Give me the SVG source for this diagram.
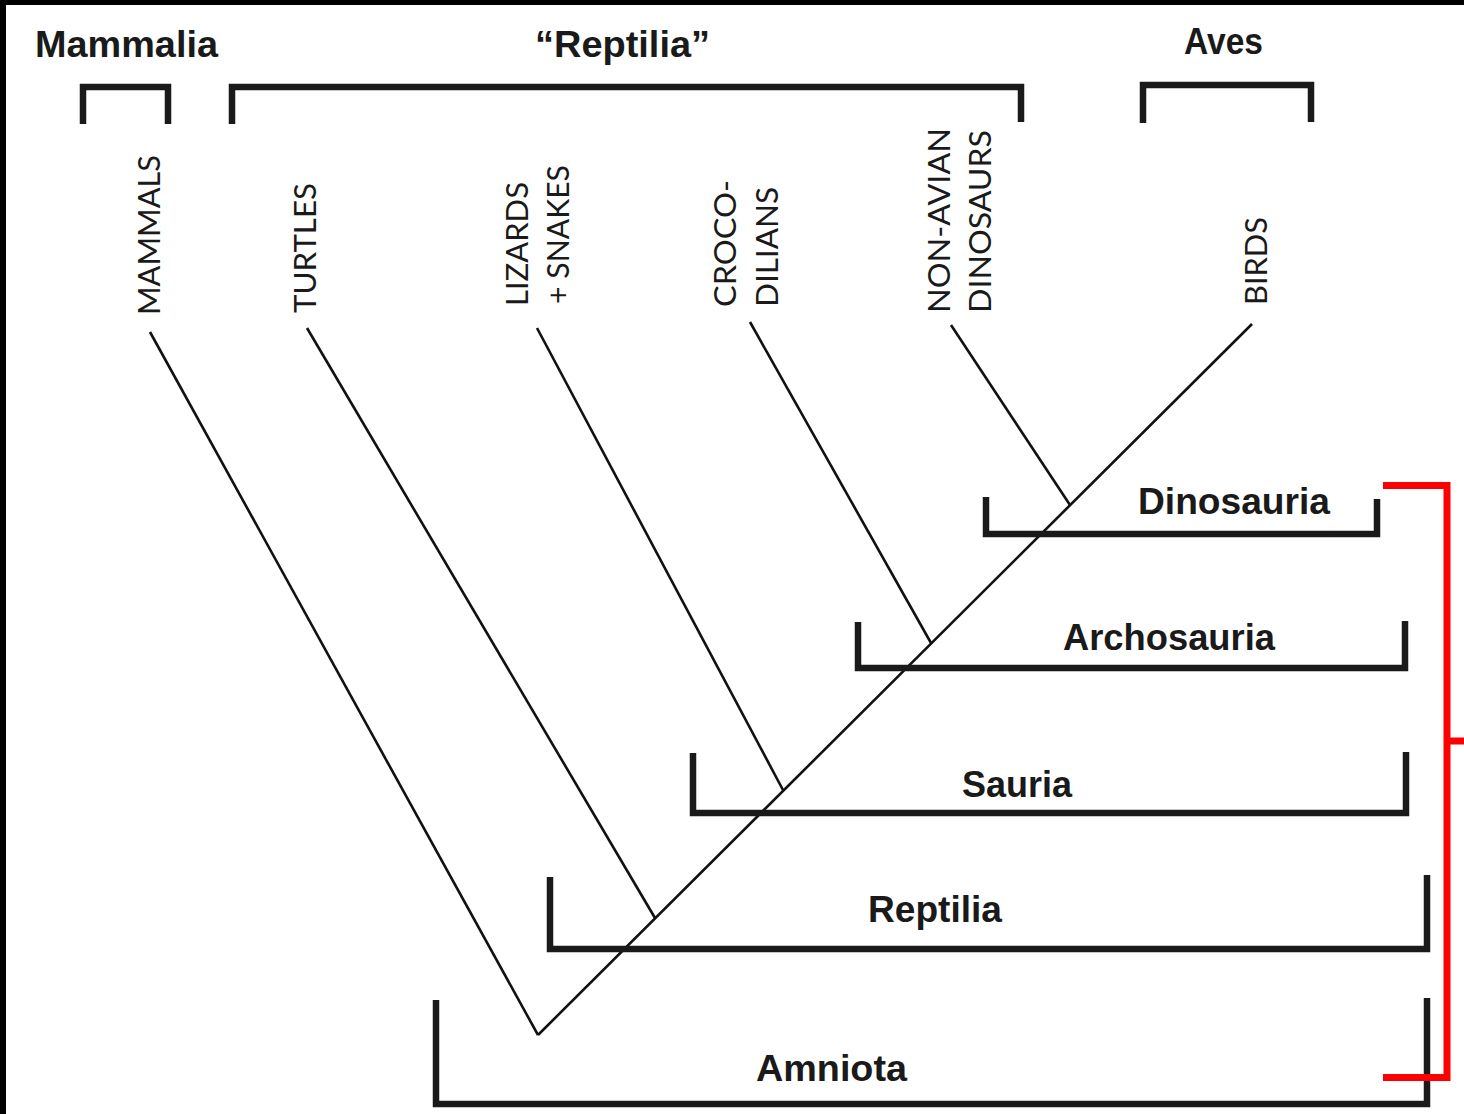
<svg xmlns="http://www.w3.org/2000/svg" width="1464" height="1114" viewBox="0 0 1464 1114">
<style>
.bg{fill:#ffffff}
.frame{fill:#000000}
.br{fill:none;stroke:#1a1a1a;stroke-width:6.5;stroke-linecap:butt;stroke-linejoin:miter}
.red{fill:none;stroke:#ff0000;stroke-width:7;stroke-linejoin:miter}
.edge{fill:none;stroke:#111111;stroke-width:2.6;stroke-linecap:butt}
.clade{font-family:"Liberation Sans",Arial,sans-serif;font-weight:bold;font-size:37px;fill:#1a1a1a}
.taxon{font-family:Lato,"Liberation Sans",Arial,sans-serif;font-weight:400;font-size:31px;fill:#1a1a1a}
</style>
<rect class="bg" x="0" y="0" width="1464" height="1114"/>
<rect class="frame" x="0" y="0" width="1464" height="5"/>
<rect class="frame" x="0" y="0" width="6" height="1114"/>

<g id="connectors">
  <line class="edge" x1="538" y1="1035" x2="1252" y2="324"/>
  <line class="edge" x1="538" y1="1035" x2="150" y2="332"/>
  <line class="edge" x1="655" y1="918" x2="307" y2="328"/>
  <line class="edge" x1="783" y1="790" x2="537" y2="328"/>
  <line class="edge" x1="931" y1="643" x2="750" y2="322"/>
  <line class="edge" x1="1070" y1="505" x2="951" y2="325"/>
</g>

<g id="group-mammalia">
  <path class="br" d="M83,124 V87 H168 V124"/>
  <text class="clade" x="35" y="57" textLength="183" lengthAdjust="spacingAndGlyphs">Mammalia</text>
</g>
<g id="group-reptilia-paraphyletic">
  <path class="br" d="M232,124 V87 H1021 V122"/>
  <text class="clade" x="535" y="57" textLength="175" lengthAdjust="spacingAndGlyphs">“Reptilia”</text>
</g>
<g id="group-aves">
  <path class="br" d="M1143,123 V85 H1311 V122"/>
  <text class="clade" x="1184" y="54" textLength="79" lengthAdjust="spacingAndGlyphs">Aves</text>
</g>

<g id="taxon-mammals">
  <text class="taxon" transform="translate(160,315) rotate(-90)" textLength="160" lengthAdjust="spacingAndGlyphs">MAMMALS</text>
</g>
<g id="taxon-turtles">
  <text class="taxon" transform="translate(316,313) rotate(-90)" textLength="130" lengthAdjust="spacingAndGlyphs">TURTLES</text>
</g>
<g id="taxon-lizards-snakes">
  <text class="taxon" transform="translate(528,306) rotate(-90)" textLength="124" lengthAdjust="spacingAndGlyphs">LIZARDS</text>
  <text class="taxon" transform="translate(569,304) rotate(-90)" textLength="139" lengthAdjust="spacingAndGlyphs">+ SNAKES</text>
</g>
<g id="taxon-crocodilians">
  <text class="taxon" transform="translate(736,307) rotate(-90)" textLength="127" lengthAdjust="spacingAndGlyphs">CROCO-</text>
  <text class="taxon" transform="translate(778,307) rotate(-90)" textLength="120" lengthAdjust="spacingAndGlyphs">DILIANS</text>
</g>
<g id="taxon-nonavian-dinosaurs">
  <text class="taxon" transform="translate(950,313) rotate(-90)" textLength="185" lengthAdjust="spacingAndGlyphs">NON-AVIAN</text>
  <text class="taxon" transform="translate(991,313) rotate(-90)" textLength="183" lengthAdjust="spacingAndGlyphs">DINOSAURS</text>
</g>
<g id="taxon-birds">
  <text class="taxon" transform="translate(1267,305) rotate(-90)" textLength="88" lengthAdjust="spacingAndGlyphs">BIRDS</text>
</g>

<g id="clade-dinosauria">
  <path class="br" d="M986,497 V534 H1377 V499"/>
  <text class="clade" x="1138" y="514" textLength="192" lengthAdjust="spacingAndGlyphs">Dinosauria</text>
</g>
<g id="clade-archosauria">
  <path class="br" d="M858,622 V668 H1405 V621"/>
  <text class="clade" x="1063" y="650" textLength="212" lengthAdjust="spacingAndGlyphs">Archosauria</text>
</g>
<g id="clade-sauria">
  <path class="br" d="M693,753 V813 H1406 V752"/>
  <text class="clade" x="962" y="797" textLength="110" lengthAdjust="spacingAndGlyphs">Sauria</text>
</g>
<g id="clade-reptilia">
  <path class="br" d="M550,877 V949 H1427 V875"/>
  <text class="clade" x="868" y="922" textLength="134" lengthAdjust="spacingAndGlyphs">Reptilia</text>
</g>
<g id="clade-amniota">
  <path class="br" d="M436,1000 V1104 H1427 V998"/>
  <text class="clade" x="756" y="1081" textLength="151" lengthAdjust="spacingAndGlyphs">Amniota</text>
</g>

<g id="highlight-bracket">
  <path class="red" d="M1383,485.5 H1447 V1077.5 H1383"/>
  <line class="red" x1="1447" y1="741" x2="1464" y2="741"/>
</g>
</svg>
